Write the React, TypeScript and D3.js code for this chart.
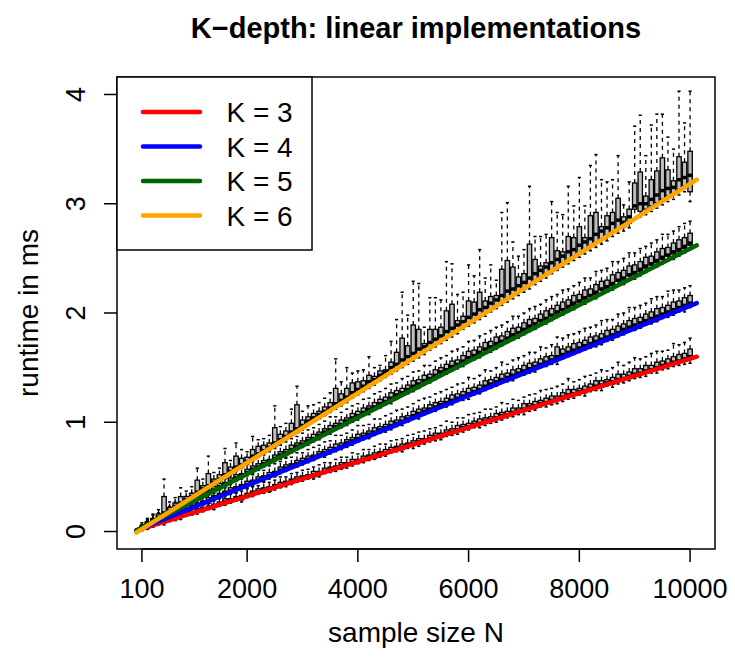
import React from "react";
import * as d3 from "d3";

// ---------- data (runtime values in 1/100 ms) ----------
const sampleSizes = d3.range(100, 10001, 100); // N = 100 .. 10000
const xTickValues = [100, 2000, 4000, 6000, 8000, 10000];
const xTickLabels = ["100", "2000", "4000", "6000", "8000", "10000"];
const yTickValues = [0, 1, 2, 3, 4];
const kLabels = ["K = 3", "K = 4", "K = 5", "K = 6"];
const kColors = ["#ff0000", "#0000ff", "#006400", "#ffa500"];

// fitted linear runtime lines: value (ms) at N start / N end
const lineN = [0, 10120];
const lineK3 = [0.01, 1.6];
const lineK4 = [0.01, 2.09];
const lineK5 = [0.01, 2.62];
const lineK6 = [-0.01, 3.22];

// K = 3: medians and spreads (q3-med, hi-q3, med-q1, q1-lo)
const med3 = [3,4,6,8,9,11,12,14,16,17, 19,20,22,23,25,27,28,30,31,33, 35,36,38,39,41,42,44,46,47,49, 50,52,53,55,57,58,60,61,63,64, 66,68,69,71,72,74,76,77,79,80, 82,83,85,87,88,90,91,93,95,96, 98,99,101,102,104,106,107,109,110,112, 114,115,117,118,120,121,123,125,126,128, 129,131,133,134,136,137,139,140,142,144, 145,147,148,150,152,153,155,156,158,160];
const up3 = [1,1,1,2,1,2,1,2,2,1, 2,2,1,2,2,3,2,2,2,2, 2,3,2,2,2,3,2,2,3,2, 2,3,2,3,2,2,3,2,3,2, 3,2,3,2,3,3,2,3,2,3, 3,2,3,3,2,3,3,4,3,3, 3,4,3,3,4,3,3,4,3,5, 3,4,3,4,4,3,4,5,4,3, 4,4,5,4,3,4,5,4,4,5, 4,5,4,5,4,5,5,6,5,7];
const upW3 = [2,2,3,2,3,3,2,3,3,3, 3,4,3,3,4,3,4,3,4,4, 4,3,5,4,4,5,4,5,4,5, 5,4,6,5,4,6,5,5,6,5, 6,5,6,7,5,6,6,5,7,6, 6,7,6,5,7,8,6,7,6,8, 7,6,8,7,6,9,7,8,7,6, 8,7,9,8,7,9,8,10,7,8, 9,8,7,10,8,9,11,8,9,10, 9,8,11,10,9,8,12,9,10,10];
const dn3 = [1,1,1,1,1,1,1,1,1,1, 1,1,1,1,1,1,1,1,2,1, 1,1,1,2,1,1,1,1,1,1, 1,2,1,1,1,1,2,1,1,1, 1,1,2,1,1,1,1,2,1,1, 2,1,1,1,2,1,1,1,2,1, 1,1,2,1,1,2,1,1,1,2, 1,2,1,1,2,1,1,2,1,1, 2,1,1,2,1,2,1,1,2,1, 1,2,1,2,1,1,2,1,2,2];
const dnW3 = [1,1,1,1,2,1,1,2,1,1, 2,1,1,2,1,2,1,1,2,1, 2,1,2,1,2,1,2,2,1,2, 1,2,2,1,2,2,1,2,2,1, 2,2,1,2,2,1,2,2,2,3, 2,2,2,3,2,2,2,3,2,2, 2,3,2,2,3,2,2,3,2,3, 3,2,2,3,2,3,3,2,3,2, 3,2,3,3,2,3,3,3,2,3, 3,3,2,3,3,3,2,3,3,4];

// K = 4
const med4 = [3,5,7,10,12,14,16,18,20,22, 24,26,28,31,33,35,37,39,41,43, 45,47,49,51,53,56,58,60,62,64, 66,68,70,72,74,76,78,81,83,85, 87,89,91,93,95,97,99,101,103,106, 108,110,112,114,116,118,120,122,124,126, 128,130,133,135,137,139,141,143,145,147, 149,151,153,155,157,160,162,164,166,168, 170,172,174,176,178,180,182,185,187,189, 191,193,195,197,199,201,203,205,207,209];
const up4 = [1,2,1,2,2,1,2,2,2,2, 2,2,3,2,2,2,3,2,2,3, 2,3,2,3,2,3,3,2,3,3, 3,2,3,3,3,4,3,3,3,4, 3,3,4,3,3,4,3,4,3,4, 4,3,4,4,3,4,5,4,4,5, 4,4,5,4,4,5,4,5,4,5, 5,4,5,5,4,9,5,5,6,5, 5,6,5,5,6,5,6,5,6,6, 5,6,6,7,6,6,7,6,7,7];
const upW4 = [2,3,3,4,3,4,3,4,5,4, 4,5,4,5,5,4,6,5,5,6, 5,6,5,6,7,5,6,6,7,5, 6,7,6,7,6,8,7,6,7,8, 7,6,8,7,8,7,9,7,8,7, 8,9,7,8,9,8,7,9,8,10, 8,9,10,8,9,11,8,9,10,9, 10,9,11,8,10,9,10,11,9,10, 11,9,10,12,10,9,11,10,12,10, 11,10,12,11,10,13,11,10,9,9];
const dn4 = [1,1,1,1,1,1,1,1,1,1, 1,1,2,1,1,1,1,1,1,1, 1,1,1,1,2,1,1,1,1,1, 1,1,1,2,1,1,1,1,2,1, 1,1,1,1,1,2,1,1,1,1, 2,1,1,1,1,1,2,1,1,2, 1,1,1,2,1,1,1,2,1,1, 1,2,1,1,1,3,1,1,2,1, 1,1,2,1,1,2,1,1,1,2, 1,1,2,1,1,2,1,1,2,1];
const dnW4 = [1,1,1,2,1,1,2,1,2,1, 2,1,2,1,2,2,1,2,1,2, 2,1,2,2,1,2,2,1,2,2, 2,2,1,2,2,2,2,3,2,2, 2,3,2,2,3,2,2,3,2,2, 3,2,2,3,2,3,2,2,3,3, 2,3,3,2,3,2,3,3,2,3, 3,3,2,3,3,4,3,3,2,3, 3,3,3,4,3,3,3,4,3,3, 4,3,3,4,3,3,4,3,4,3];

// K = 5
const med5 = [4,7,9,12,15,17,20,23,25,28, 30,33,36,38,41,43,46,49,51,54, 57,59,62,64,67,70,72,75,78,80, 83,85,88,91,93,96,98,101,104,106, 109,112,114,117,119,122,125,127,130,133, 135,138,140,143,146,148,151,153,156,159, 161,164,167,169,172,174,177,180,182,185, 188,190,193,195,198,201,203,206,209,211, 214,216,219,222,224,227,230,232,235,237, 240,243,245,248,251,253,256,258,261,264];
const up5 = [1,2,2,2,2,2,2,2,3,2, 2,3,2,3,3,2,3,3,2,3, 3,3,3,2,3,3,3,4,3,3, 3,4,3,3,4,3,4,3,4,4, 4,3,4,4,4,5,4,4,4,5, 4,5,4,5,4,5,5,4,5,6, 5,5,6,5,6,5,6,6,5,6, 6,5,6,7,6,6,7,6,7,6, 7,6,7,7,6,8,7,7,8,7, 7,8,7,8,8,7,8,9,8,9];
const upW5 = [3,3,4,3,4,4,5,4,4,5, 5,4,5,6,5,5,6,5,6,5, 6,6,5,7,6,6,7,6,6,7, 7,6,7,7,8,6,7,8,7,7, 8,7,8,7,8,8,7,9,8,8, 8,9,8,8,9,8,9,10,8,9, 9,10,8,10,9,10,9,11,10,9, 10,11,9,10,11,10,11,10,9,11, 11,10,12,10,11,12,10,11,12,11, 12,10,12,11,13,12,11,12,13,11];
const dn5 = [1,1,1,1,1,1,1,2,1,1, 1,1,1,1,2,1,1,1,1,1, 2,1,1,1,1,1,2,1,1,1, 1,1,2,1,1,1,1,1,2,1, 1,2,1,1,1,2,1,1,1,2, 1,1,2,1,1,1,2,1,2,1, 1,2,1,1,2,1,1,2,1,2, 2,1,1,2,1,2,1,2,2,1, 2,1,2,1,2,2,1,2,1,2, 2,2,1,2,2,1,2,2,2,2];
const dnW5 = [1,2,1,2,1,2,2,1,2,2, 2,1,2,2,1,2,2,2,1,2, 2,2,2,1,2,3,2,2,2,2, 3,2,2,2,3,2,2,3,2,3, 2,3,2,3,2,3,3,2,3,3, 3,3,2,3,3,3,2,3,3,3, 3,3,3,4,3,3,3,3,4,3, 3,4,3,3,4,3,4,3,4,3, 4,3,4,4,3,4,3,4,4,4, 4,4,3,4,4,4,5,4,4,4];

// K = 6: five-number summaries
const med6 = [3,6,10,13,17,19,23,26,29,32, 36,39,42,45,48,52,55,59,61,64, 69,71,74,77,81,84,87,91,94,97, 101,104,107,110,113,117,120,123,127,130, 133,137,139,143,146,150,153,157,160,163, 167,169,173,176,179,183,186,189,192,196, 199,203,205,209,212,216,220,222,225,228, 232,236,239,242,246,249,252,256,258,262, 265,268,272,275,278,282,285,283,288,298, 300,300,304,308,312,314,315,322,324,326];
const q1K6 = [2,5,8,11,14,17,21,24,27,30, 33,37,40,43,46,49,53,56,59,62, 66,69,72,75,78,82,85,88,91,95, 98,101,104,107,111,114,117,120,124,127, 130,133,136,140,143,146,149,152,156,159, 162,165,168,172,175,178,181,184,188,191, 194,197,200,204,207,210,213,216,219,222, 226,229,232,235,239,242,245,248,251,254, 258,261,264,267,270,274,277,279,282,295, 293,295,298,301,304,307,309,313,316,311];
const q3K6 = [4,8,12,16,32,22,26,32,32,35, 47,42,53,48,52,63,59,69,67,68, 75,78,79,81,95,89,92,99,116,102, 105,108,110,114,118,131,126,131,136,137, 138,143,142,147,148,155,164,177,170,189, 185,172,185,185,187,202,208,193,197,211, 210,219,211,215,216,240,248,242,233,236, 263,249,243,246,269,257,256,270,269,279, 269,289,292,279,289,292,305,288,295,319, 329,307,322,330,342,331,321,343,338,348];
const lo6 = [1,4,7,10,13,16,20,22,26,29, 32,35,38,42,45,48,51,55,58,61, 64,68,71,74,77,80,84,87,90,93, 97,100,103,106,109,112,115,118,122,125, 128,131,134,138,141,144,147,150,153,156, 159,162,166,169,172,175,178,181,185,188, 191,194,197,201,204,207,210,213,216,219, 222,226,229,232,236,239,242,245,248,251, 254,257,260,263,266,270,273,275,278,286, 288,290,293,296,299,302,304,308,311,302];
const hi6 = [6,11,16,20,48,27,31,40,37,41, 58,48,69,54,58,76,65,81,75,73, 87,84,85,88,115,96,99,112,133,110, 115,116,118,122,127,158,137,150,145,147, 148,160,150,152,161,174,194,219,198,229, 227,187,214,214,212,247,245,217,219,244, 234,258,232,244,230,292,301,265,252,258, 316,270,270,272,302,292,290,316,298,324, 298,335,345,322,320,322,344,299,320,371, 381,344,372,382,382,361,350,403,374,403];

// ---------- helpers ----------
type Box = { n: number; lo: number; q1: number; med: number; q3: number; hi: number };

function fromSpreads(med: number[], up: number[], upW: number[], dn: number[], dnW: number[]): Box[] {
  return sampleSizes.map((n, i) => {
    const q3 = med[i] + up[i];
    const q1 = med[i] - dn[i];
    return { n, med: med[i] / 100, q3: q3 / 100, hi: (q3 + upW[i]) / 100, q1: q1 / 100, lo: (q1 - dnW[i]) / 100 };
  });
}
function fromSummary(lo: number[], q1: number[], med: number[], q3: number[], hi: number[]): Box[] {
  return sampleSizes.map((n, i) => ({ n, lo: lo[i] / 100, q1: q1[i] / 100, med: med[i] / 100, q3: q3[i] / 100, hi: hi[i] / 100 }));
}

const boxGroups: Box[][] = [
  fromSpreads(med3, up3, upW3, dn3, dnW3),
  fromSpreads(med4, up4, upW4, dn4, dnW4),
  fromSpreads(med5, up5, upW5, dn5, dnW5),
  fromSummary(lo6, q1K6, med6, q3K6, hi6),
];
const fitLines = [lineK3, lineK4, lineK5, lineK6];

// ---------- layout ----------
const W = 735;
const H = 657;
const L = 117, R = 715, T = 77, B = 549;
const FONT = "'Liberation Sans', Arial, Helvetica, sans-serif";

export default function App() {
  const x = d3.scaleLinear().domain([-350, 10450]).range([L, R]);
  const y = d3.scaleLinear().domain([-0.16, 4.16]).range([B, T]);
  const boxW = x(180) - x(100);
  const hw = boxW / 2;
  const capHalf = boxW * 0.36;
  const line = d3.line<[number, number]>().x((d) => x(d[0])).y((d) => y(d[1]));

  const legendRows = [112, 146.5, 181, 215.5];

  return (
    <svg width={W} height={H} style={{ position: "absolute", left: 0, top: 0, background: "#fff" }} fontFamily={FONT}>
      <rect x={0} y={0} width={W} height={H} fill="#fff" />
      {/* boxplots */}
      {boxGroups.map((grp, gi) => (
        <g key={gi}>
          {grp.map((b, i) => {
            const cx = x(b.n);
            return (
              <g key={i}>
                <line x1={cx} x2={cx} y1={y(b.q3)} y2={y(b.hi)} stroke="#000" strokeWidth={1.3} strokeDasharray="4 4" />
                <line x1={cx} x2={cx} y1={y(b.q1)} y2={y(b.lo)} stroke="#000" strokeWidth={1.3} strokeDasharray="4 4" />
                <line x1={cx - capHalf} x2={cx + capHalf} y1={y(b.hi)} y2={y(b.hi)} stroke="#000" strokeWidth={1.5} />
                <line x1={cx - capHalf} x2={cx + capHalf} y1={y(b.lo)} y2={y(b.lo)} stroke="#000" strokeWidth={1.5} />
                <rect x={cx - hw} y={y(b.q3)} width={boxW} height={Math.max(0.5, y(b.q1) - y(b.q3))} fill="#bebebe" stroke="#000" strokeWidth={1.3} />
                <line x1={cx - hw} x2={cx + hw} y1={y(b.med)} y2={y(b.med)} stroke="#000" strokeWidth={3.5} />
              </g>
            );
          })}
        </g>
      ))}
      {/* fitted lines */}
      {fitLines.map((v, k) => (
        <path key={k} d={line([[lineN[0], v[0]], [lineN[1], v[1]]])!} stroke={kColors[k]} strokeWidth={4.5} strokeLinecap="round" fill="none" />
      ))}
      {/* frame */}
      <rect x={L} y={T} width={R - L} height={B - T} fill="none" stroke="#000" strokeWidth={1.5} />
      {/* x axis */}
      <line x1={x(xTickValues[0])} x2={x(xTickValues[xTickValues.length - 1])} y1={B} y2={B} stroke="#000" strokeWidth={1.5} />
      {xTickValues.map((v, i) => (
        <g key={i}>
          <line x1={x(v)} x2={x(v)} y1={B} y2={B + 13} stroke="#000" strokeWidth={1.5} />
          <text x={x(v)} y={598} textAnchor="middle" fontSize={27} fill="#000">{xTickLabels[i]}</text>
        </g>
      ))}
      {/* y axis */}
      {yTickValues.map((v, i) => (
        <g key={i}>
          <line x1={L} x2={L - 13} y1={y(v)} y2={y(v)} stroke="#000" strokeWidth={1.5} />
          <text transform={`translate(85,${y(v)}) rotate(-90)`} textAnchor="middle" fontSize={27} fill="#000">{String(v)}</text>
        </g>
      ))}
      {/* titles */}
      <text x={(L + R) / 2} y={38} textAnchor="middle" fontSize={29} fontWeight="bold" fill="#000">K−depth: linear implementations</text>
      <text x={(L + R) / 2} y={642} textAnchor="middle" fontSize={28} fill="#000">sample size N</text>
      <text transform={`translate(38,${(T + B) / 2}) rotate(-90)`} textAnchor="middle" fontSize={28} fill="#000">runtime in ms</text>
      {/* legend */}
      <rect x={L} y={T} width={195} height={173} fill="#fff" stroke="#000" strokeWidth={1.5} />
      {kLabels.map((lab, k) => (
        <g key={k}>
          <line x1={143} x2={200} y1={legendRows[k]} y2={legendRows[k]} stroke={kColors[k]} strokeWidth={4.5} strokeLinecap="round" />
          <text x={226.5} y={legendRows[k] + 10} fontSize={28} fill="#000">{lab}</text>
        </g>
      ))}
    </svg>
  );
}
